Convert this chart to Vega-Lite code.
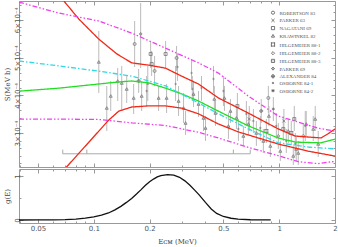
{
 "$schema": "https://vega.github.io/schema/vega-lite/v6.json",
 "padding": {"left": 2, "top": 0, "right": 2, "bottom": 2},
 "spacing": 0,
 "background": "white",
 "config": {
  "view": {"stroke": "#999", "strokeWidth": 1},
  "axis": {"domain": false, "grid": false, "tickColor": "#999", "tickWidth": 1, "labelFont": "DejaVu Sans", "labelFontSize": 7, "labelColor": "#555", "titleFont": "DejaVu Serif", "titleFontSize": 7, "titleFontWeight": "normal", "titleColor": "#444", "labelOverlap": false, "labelFlush": false}
 },
 "datasets": {
  "pts": [
   {"set":"KRAWINKEL 82","E":0.1064,"S":4.885,"lo":4.062,"hi":5.705},
   {"set":"KRAWINKEL 82","E":0.1175,"S":3.665,"lo":3.055,"hi":4.248},
   {"set":"KRAWINKEL 82","E":0.1346,"S":4.38,"lo":3.85,"hi":4.725},
   {"set":"KRAWINKEL 82","E":0.1415,"S":4.327,"lo":3.585,"hi":4.778},
   {"set":"KRAWINKEL 82","E":0.1641,"S":3.93,"lo":3.506,"hi":4.30},
   {"set":"ROBERTSON 83","E":0.1661,"S":5.36,"lo":4.751,"hi":5.97},
   {"set":"PARKER 69","E":0.179,"S":5.626,"lo":4.725,"hi":6.447},
   {"set":"KRAWINKEL 82","E":0.1812,"S":3.983,"lo":3.585,"hi":4.38},
   {"set":"OSBORNE 84-1","E":0.1928,"S":4.115,"lo":3.718,"hi":4.513},
   {"set":"OSBORNE 84-1","E":0.1955,"S":4.30,"lo":3.85,"hi":4.778},
   {"set":"NAGATANI 69","E":0.2026,"S":5.096,"lo":4.725,"hi":5.44},
   {"set":"NAGATANI 69","E":0.2051,"S":4.83,"lo":4.513,"hi":5.175},
   {"set":"ROBERTSON 83","E":0.2128,"S":4.645,"lo":4.248,"hi":5.043},
   {"set":"KRAWINKEL 82","E":0.2237,"S":3.93,"lo":3.585,"hi":4.248},
   {"set":"NAGATANI 69","E":0.244,"S":5.096,"lo":4.725,"hi":5.44},
   {"set":"KRAWINKEL 82","E":0.247,"S":3.93,"lo":3.532,"hi":4.30},
   {"set":"OSBORNE 84-1","E":0.2762,"S":4.30,"lo":3.85,"hi":4.778},
   {"set":"ROBERTSON 83","E":0.2796,"S":4.99,"lo":4.645,"hi":5.308},
   {"set":"OSBORNE 84-1","E":0.283,"S":4.751,"lo":4.38,"hi":5.122},
   {"set":"KRAWINKEL 82","E":0.2866,"S":3.85,"lo":3.453,"hi":4.248},
   {"set":"KRAWINKEL 82","E":0.3049,"S":3.665,"lo":3.267,"hi":4.062},
   {"set":"KRAWINKEL 82","E":0.3126,"S":3.267,"lo":2.949,"hi":3.585},
   {"set":"OSBORNE 84-1","E":0.3367,"S":4.592,"lo":4.195,"hi":4.963},
   {"set":"OSBORNE 84-1","E":0.34,"S":4.168,"lo":3.85,"hi":4.513},
   {"set":"KRAWINKEL 82","E":0.3451,"S":4.035,"lo":3.691,"hi":4.38},
   {"set":"KRAWINKEL 82","E":0.3672,"S":3.77,"lo":3.426,"hi":4.115},
   {"set":"OSBORNE 84-1","E":0.3811,"S":4.195,"lo":3.85,"hi":4.513},
   {"set":"KRAWINKEL 82","E":0.3906,"S":3.40,"lo":3.055,"hi":3.718},
   {"set":"KRAWINKEL 82","E":0.4004,"S":3.135,"lo":2.79,"hi":3.453},
   {"set":"OSBORNE 84-1","E":0.4422,"S":4.433,"lo":4.062,"hi":4.778},
   {"set":"KRAWINKEL 82","E":0.447,"S":3.903,"lo":3.532,"hi":4.248},
   {"set":"KRAWINKEL 82","E":0.4533,"S":3.532,"lo":3.188,"hi":3.85},
   {"set":"KRAWINKEL 82","E":0.1234,"S":3.983,"lo":3.585,"hi":4.38},
   {"set":"KRAWINKEL 82","E":0.1505,"S":4.168,"lo":3.797,"hi":4.513},
   {"set":"ALEXANDER 84","E":0.1746,"S":4.38,"lo":4.062,"hi":4.698},
   {"set":"OSBORNE 84-1","E":0.5005,"S":4.115,"lo":3.718,"hi":4.513},
   {"set":"KRAWINKEL 82","E":0.5067,"S":3.93,"lo":3.585,"hi":4.248},
   {"set":"KRAWINKEL 82","E":0.5459,"S":3.585,"lo":3.267,"hi":3.903},
   {"set":"KRAWINKEL 82","E":0.5879,"S":3.40,"lo":3.108,"hi":3.718},
   {"set":"OSBORNE 84-1","E":0.6654,"S":3.506,"lo":3.188,"hi":3.85},
   {"set":"KRAWINKEL 82","E":0.6822,"S":3.24,"lo":2.949,"hi":3.532},
   {"set":"ROBERTSON 83","E":0.874,"S":3.93,"lo":3.532,"hi":4.248},
   {"set":"OSBORNE 84-2","E":0.9299,"S":3.638,"lo":3.32,"hi":3.956},
   {"set":"KRAWINKEL 82","E":0.88,"S":3.453,"lo":3.188,"hi":3.718},
   {"set":"KRAWINKEL 82","E":1.3994,"S":3.24,"lo":2.923,"hi":3.585},
   {"set":"KRAWINKEL 82","E":1.5645,"S":3.373,"lo":3.055,"hi":3.718},
   {"set":"KRAWINKEL 82","E":0.5325,"S":3.188,"lo":2.843,"hi":3.532},
   {"set":"OSBORNE 84-1","E":0.6027,"S":3.108,"lo":2.79,"hi":3.373},
   {"set":"KRAWINKEL 82","E":0.6412,"S":2.923,"lo":2.658,"hi":3.188},
   {"set":"OSBORNE 84-1","E":0.7258,"S":3.32,"lo":3.002,"hi":3.638},
   {"set":"KRAWINKEL 82","E":0.7532,"S":3.002,"lo":2.658,"hi":3.32},
   {"set":"OSBORNE 84-1","E":0.7915,"S":3.135,"lo":2.79,"hi":3.453},
   {"set":"KRAWINKEL 82","E":0.8215,"S":2.79,"lo":2.472,"hi":3.108},
   {"set":"HILGEMEIER 88-1","E":0.8526,"S":3.055,"lo":2.737,"hi":3.373},
   {"set":"KRAWINKEL 82","E":0.8959,"S":2.658,"lo":2.366,"hi":2.923},
   {"set":"OSBORNE 84-1","E":0.965,"S":3.188,"lo":2.843,"hi":3.532},
   {"set":"HILGEMEIER 88-2","E":0.9893,"S":2.923,"lo":2.578,"hi":3.267},
   {"set":"KRAWINKEL 82","E":1.0141,"S":2.525,"lo":2.26,"hi":2.79},
   {"set":"HILGEMEIER 88-3","E":1.0525,"S":3.108,"lo":2.79,"hi":3.453},
   {"set":"OSBORNE 84-1","E":1.0923,"S":2.79,"lo":2.472,"hi":3.108},
   {"set":"KRAWINKEL 82","E":1.1198,"S":3.055,"lo":2.737,"hi":3.373},
   {"set":"HILGEMEIER 88-1","E":1.1621,"S":3.002,"lo":2.684,"hi":3.32},
   {"set":"KRAWINKEL 82","E":1.1913,"S":2.393,"lo":2.154,"hi":2.658},
   {"set":"OSBORNE 84-1","E":1.2211,"S":2.711,"lo":2.393,"hi":3.002},
   {"set":"KRAWINKEL 82","E":1.2363,"S":2.578,"lo":2.26,"hi":2.896},
   {"set":"KRAWINKEL 82","E":1.2675,"S":2.472,"lo":2.154,"hi":2.79},
   {"set":"HILGEMEIER 88-2","E":1.3485,"S":2.923,"lo":2.578,"hi":3.267},
   {"set":"OSBORNE 84-1","E":1.3822,"S":3.188,"lo":2.79,"hi":3.585},
   {"set":"KRAWINKEL 82","E":1.5263,"S":3.108,"lo":2.79,"hi":3.453},
   {"set":"KRAWINKEL 82","E":1.6238,"S":2.711,"lo":2.366,"hi":3.055},
   {"set":"PARKER 63","E":0.69,"S":3.373,"lo":3.055,"hi":3.718},
   {"set":"PARKER 63","E":1.06,"S":3.32,"lo":3.002,"hi":3.638},
   {"set":"ALEXANDER 84","E":0.80,"S":3.585,"lo":3.267,"hi":3.903},
   {"set":"HILGEMEIER 88-3","E":1.2061,"S":3.373,"lo":3.055,"hi":3.718},
   {"set":"NAGATANI 69","E":0.595,"S":3.718,"lo":3.373,"hi":4.062}
  ],
  "curves": [
   {"curve":"ru","E":0.069,"S":6.5},{"curve":"ru","E":0.0831,"S":6.02},{"curve":"ru","E":0.1064,"S":5.49},{"curve":"ru","E":0.1329,"S":5.10},{"curve":"ru","E":0.1601,"S":4.86},{"curve":"ru","E":0.1976,"S":4.80},{"curve":"ru","E":0.2438,"S":4.72},{"curve":"ru","E":0.2973,"S":4.51},{"curve":"ru","E":0.3668,"S":4.30},{"curve":"ru","E":0.431,"S":4.06},{"curve":"ru","E":0.4699,"S":3.93},{"curve":"ru","E":0.6813,"S":3.53},{"curve":"ru","E":0.9877,"S":3.11},{"curve":"ru","E":1.219,"S":2.92},{"curve":"ru","E":1.682,"S":2.87},{"curve":"ru","E":1.834,"S":2.98},{"curve":"ru","E":2.0,"S":3.11},
   {"curve":"rl","E":0.0707,"S":2.08},{"curve":"rl","E":0.1064,"S":3.05},{"curve":"rl","E":0.119,"S":3.32},{"curve":"rl","E":0.1363,"S":3.58},{"curve":"rl","E":0.1601,"S":3.69},{"curve":"rl","E":0.1976,"S":3.72},{"curve":"rl","E":0.2438,"S":3.72},{"curve":"rl","E":0.2973,"S":3.66},{"curve":"rl","E":0.3668,"S":3.51},{"curve":"rl","E":0.4699,"S":3.24},{"curve":"rl","E":0.602,"S":3.03},{"curve":"rl","E":0.9877,"S":2.71},{"curve":"rl","E":1.432,"S":2.52},{"curve":"rl","E":2.0,"S":2.39},
   {"curve":"g","E":0.0395,"S":4.11},{"curve":"g","E":0.0648,"S":4.19},{"curve":"g","E":0.1064,"S":4.30},{"curve":"g","E":0.1329,"S":4.35},{"curve":"g","E":0.1601,"S":4.38},{"curve":"g","E":0.1976,"S":4.33},{"curve":"g","E":0.2438,"S":4.19},{"curve":"g","E":0.2973,"S":4.04},{"curve":"g","E":0.3668,"S":3.85},{"curve":"g","E":0.4699,"S":3.58},{"curve":"g","E":0.6813,"S":3.19},{"curve":"g","E":0.9877,"S":2.87},{"curve":"g","E":1.219,"S":2.76},{"curve":"g","E":1.682,"S":2.74},{"curve":"g","E":2.0,"S":2.84},
   {"curve":"c","E":0.0395,"S":4.91},{"curve":"c","E":0.0648,"S":4.78},{"curve":"c","E":0.1064,"S":4.64},{"curve":"c","E":0.1601,"S":4.51},{"curve":"c","E":0.2438,"S":4.25},{"curve":"c","E":0.3668,"S":3.80},{"curve":"c","E":0.4699,"S":3.51},{"curve":"c","E":0.6813,"S":3.11},{"curve":"c","E":0.9877,"S":2.74},{"curve":"c","E":1.432,"S":2.63},{"curve":"c","E":2.0,"S":2.58},
   {"curve":"mu","E":0.0395,"S":6.47},{"curve":"mu","E":0.0648,"S":6.18},{"curve":"mu","E":0.1064,"S":5.97},{"curve":"mu","E":0.1601,"S":5.65},{"curve":"mu","E":0.2438,"S":5.25},{"curve":"mu","E":0.3668,"S":4.86},{"curve":"mu","E":0.4699,"S":4.59},{"curve":"mu","E":0.6813,"S":3.98},{"curve":"mu","E":0.9877,"S":3.45},{"curve":"mu","E":1.2675,"S":3.29},{"curve":"mu","E":1.62,"S":3.13},{"curve":"mu","E":2.0,"S":3.05},
   {"curve":"ml","E":0.0395,"S":3.37},{"curve":"ml","E":0.0648,"S":3.37},{"curve":"ml","E":0.1064,"S":3.36},{"curve":"ml","E":0.1601,"S":3.27},{"curve":"ml","E":0.2438,"S":3.20},{"curve":"ml","E":0.3668,"S":3.02},{"curve":"ml","E":0.4699,"S":2.87},{"curve":"ml","E":0.6813,"S":2.62},{"curve":"ml","E":0.9877,"S":2.40},{"curve":"ml","E":1.2675,"S":2.24},{"curve":"ml","E":1.62,"S":2.19},{"curve":"ml","E":2.0,"S":2.25}
  ],
  "bracket": [
   {"E":0.068,"E2":0.698,"S":2.45,"S2":2.45},
   {"E":0.068,"E2":0.068,"S":2.45,"S2":2.56},
   {"E":0.0917,"E2":0.0917,"S":2.45,"S2":2.56},
   {"E":0.566,"E2":0.566,"S":2.45,"S2":2.56},
   {"E":0.698,"E2":0.698,"S":2.45,"S2":2.56}
  ],
  "gE": [
   {"E":0.0395,"g":0},{"E":0.05,"g":0.002},{"E":0.06,"g":0.005},{"E":0.07,"g":0.01},{"E":0.08,"g":0.022},{"E":0.09,"g":0.042},{"E":0.1,"g":0.07},{"E":0.11,"g":0.11},{"E":0.12,"g":0.16},{"E":0.13,"g":0.23},{"E":0.14,"g":0.31},{"E":0.15,"g":0.40},{"E":0.16,"g":0.49},{"E":0.17,"g":0.59},{"E":0.18,"g":0.69},{"E":0.19,"g":0.79},{"E":0.2,"g":0.87},{"E":0.21,"g":0.93},{"E":0.22,"g":0.98},{"E":0.23,"g":1.01},{"E":0.25,"g":1.03},{"E":0.27,"g":1.02},{"E":0.29,"g":0.97},{"E":0.31,"g":0.89},{"E":0.33,"g":0.79},{"E":0.35,"g":0.68},{"E":0.37,"g":0.57},{"E":0.4,"g":0.40},{"E":0.43,"g":0.25},{"E":0.46,"g":0.15},{"E":0.5,"g":0.08},{"E":0.55,"g":0.04},{"E":0.6,"g":0.02},{"E":0.7,"g":0.006},{"E":0.8,"g":0.003},{"E":0.9,"g":0.002}
  ]
 },
 "vconcat": [
  {
   "width": 316, "height": 166,
   "resolve": {"axis": {"x": "independent", "y": "independent"}},
   "layer": [
    {
     "data": {"name": "bracket"},
     "mark": {"type": "rule", "color": "#aaa", "strokeWidth": 1},
     "encoding": {
      "x": {"field": "E", "type": "quantitative", "scale": {"type": "log", "domain": [0.0395, 2], "nice": false},
            "axis": {"orient": "bottom", "values": [0.04,0.05,0.06,0.07,0.08,0.09,0.1,0.2,0.3,0.4,0.5,0.6,0.7,0.8,0.9,1,2], "labels": false, "title": null, "minExtent": 0, "maxExtent": 0, "labelPadding": 0,
                     "tickSize": {"condition": {"test": "indexof([0.05,0.1,0.2,0.5,1,2], datum.value) >= 0", "value": -4}, "value": -2}}},
      "x2": {"field": "E2"},
      "y": {"field": "S", "type": "quantitative", "scale": {"domain": [2.1, 6.5], "nice": false, "zero": false},
            "axis": {"orient": "left", "title": "S(MeV b)", "values": [2.2,2.4,2.6,2.8,3,3.2,3.4,3.6,3.8,4,4.2,4.4,4.6,4.8,5,5.2,5.4,5.6,5.8,6,6.2,6.4],
                     "labelExpr": "datum.value % 1 === 0 ? datum.value + '×10⁻⁴' : ''", "labelAngle": 270, "labelPadding": 3, "titlePadding": 1,
                     "tickSize": {"condition": {"test": "datum.value % 1 === 0", "value": -4}, "value": -2}}},
      "y2": {"field": "S2"}
     }
    },
    {
     "data": {"name": "pts"},
     "mark": {"type": "rule", "color": "#bbb", "strokeWidth": 1, "clip": true},
     "encoding": {
      "x": {"field": "E", "type": "quantitative", "axis": null},
      "y": {"field": "lo", "type": "quantitative", "axis": null},
      "y2": {"field": "hi"}
     }
    },
    {
     "data": {"name": "pts"},
     "mark": {"type": "point", "filled": false, "size": 9, "strokeWidth": 0.8, "color": "#777", "opacity": 1},
     "encoding": {
      "x": {"field": "E", "type": "quantitative", "axis": null},
      "y": {"field": "S", "type": "quantitative", "axis": null},
      "shape": {"field": "set", "type": "nominal",
       "scale": {"domain": ["ROBERTSON 83","PARKER 63","NAGATANI 69","KRAWINKEL 82","HILGEMEIER 88-1","HILGEMEIER 88-2","HILGEMEIER 88-3","PARKER 69","ALEXANDER 84","OSBORNE 84-1","OSBORNE 84-2"],
                 "range": ["circle","M-1,-1L1,1M-1,1L1,-1","square","triangle-up","M-1.3,-1L1.3,-1M-1.3,1L1.3,1M-1,-1.3L-1,1.3M1,-1.3L1,1.3","diamond","M-1,-1L1,-1L1,1L-1,1ZM-0.3,0L0.3,0","M0,-1L0.3,-0.3L1,0L0.3,0.3L0,1L-0.3,0.3L-1,0L-0.3,-0.3Z","M-1,0A1,1,0,1,0,1,0A1,1,0,1,0,-1,0M-1,0L1,0M0,-1L0,1","M-0.5,0A0.5,0.5,0,1,0,0.5,0A0.5,0.5,0,1,0,-0.5,0","M-1,0L1,0M0,-1L0,1M-0.7,-0.7L0.7,0.7M-0.7,0.7L0.7,-0.7"]},
       "legend": {"orient": "none", "legendX": 251.5, "legendY": 9.2, "title": null, "padding": 0, "rowPadding": 0.7, "symbolSize": 10, "symbolStrokeWidth": 0.8, "symbolStrokeColor": "#555", "labelFont": "Liberation Serif", "labelFontSize": 5, "labelColor": "#555", "labelOffset": 4}}
     }
    },
    {
     "data": {"name": "curves"},
     "mark": {"type": "line", "clip": true, "strokeWidth": 1.3},
     "encoding": {
      "x": {"field": "E", "type": "quantitative",
            "axis": {"orient": "top", "values": [0.04,0.05,0.06,0.07,0.08,0.09,0.1,0.2,0.3,0.4,0.5,0.6,0.7,0.8,0.9,1,2], "labels": false, "title": null, "minExtent": 0, "maxExtent": 0, "labelPadding": 0,
                     "tickSize": {"condition": {"test": "indexof([0.05,0.1,0.2,0.5,1,2], datum.value) >= 0", "value": -4}, "value": -2}}},
      "y": {"field": "S", "type": "quantitative",
            "axis": {"orient": "right", "values": [2.2,2.4,2.6,2.8,3,3.2,3.4,3.6,3.8,4,4.2,4.4,4.6,4.8,5,5.2,5.4,5.6,5.8,6,6.2,6.4], "labels": false, "title": null, "minExtent": 0, "maxExtent": 0, "labelPadding": 0,
                     "tickSize": {"condition": {"test": "datum.value % 1 === 0", "value": -4}, "value": -2}}},
      "color": {"field": "curve", "type": "nominal", "legend": null,
                "scale": {"domain": ["ru","rl","g","c","mu","ml"], "range": ["#f02818","#f02818","#22dd22","#30d8e8","#ee40ee","#ee40ee"]}},
      "strokeDash": {"field": "curve", "type": "nominal", "legend": null,
                "scale": {"domain": ["ru","rl","g","c","mu","ml"], "range": [[1,0],[1,0],[1,0],[5,2,1.5,2],[5,2,1.5,2,1.5,2],[5,2,1.5,2,1.5,2]]}}
     }
    }
   ]
  },
  {
   "width": 316, "height": 54,
   "data": {"name": "gE"},
   "resolve": {"axis": {"x": "independent", "y": "independent"}},
   "layer": [
    {
     "mark": {"type": "line", "color": "#111", "strokeWidth": 1.3},
     "encoding": {
      "x": {"field": "E", "type": "quantitative", "scale": {"type": "log", "domain": [0.0395, 2], "nice": false},
            "axis": {"orient": "bottom", "values": [0.04,0.05,0.06,0.07,0.08,0.09,0.1,0.2,0.3,0.4,0.5,0.6,0.7,0.8,0.9,1,2],
                     "labelExpr": "indexof([0.05,0.1,0.2,0.5,1,2], datum.value) >= 0 ? datum.value + '' : ''",
                     "title": "Eᴄᴍ (MeV)", "labelPadding": 5, "titlePadding": 4,
                     "tickSize": {"condition": {"test": "indexof([0.05,0.1,0.2,0.5,1,2], datum.value) >= 0", "value": -4}, "value": -2}}},
      "y": {"field": "g", "type": "quantitative", "scale": {"domain": [-0.068, 1.159], "nice": false, "zero": false},
            "axis": {"orient": "left", "title": "g(E)", "values": [0, 0.5, 1],
                     "labelExpr": "datum.value === 0.5 ? '' : datum.value + ''", "labelAngle": 270, "labelPadding": 3, "titlePadding": 1,
                     "tickSize": {"condition": {"test": "datum.value !== 0.5", "value": -4}, "value": -2}}}
     }
    },
    {
     "mark": {"type": "line", "opacity": 0},
     "encoding": {
      "x": {"field": "E", "type": "quantitative",
            "axis": {"orient": "top", "values": [0.04,0.05,0.06,0.07,0.08,0.09,0.1,0.2,0.3,0.4,0.5,0.6,0.7,0.8,0.9,1,2], "labels": false, "title": null, "minExtent": 0, "maxExtent": 0, "labelPadding": 0,
                     "tickSize": {"condition": {"test": "indexof([0.05,0.1,0.2,0.5,1,2], datum.value) >= 0", "value": -4}, "value": -2}}},
      "y": {"field": "g", "type": "quantitative",
            "axis": {"orient": "right", "values": [0, 0.5, 1], "labels": false, "title": null, "minExtent": 0, "maxExtent": 0, "labelPadding": 0,
                     "tickSize": {"condition": {"test": "datum.value !== 0.5", "value": -4}, "value": -2}}}
     }
    }
   ]
  }
 ]
}
